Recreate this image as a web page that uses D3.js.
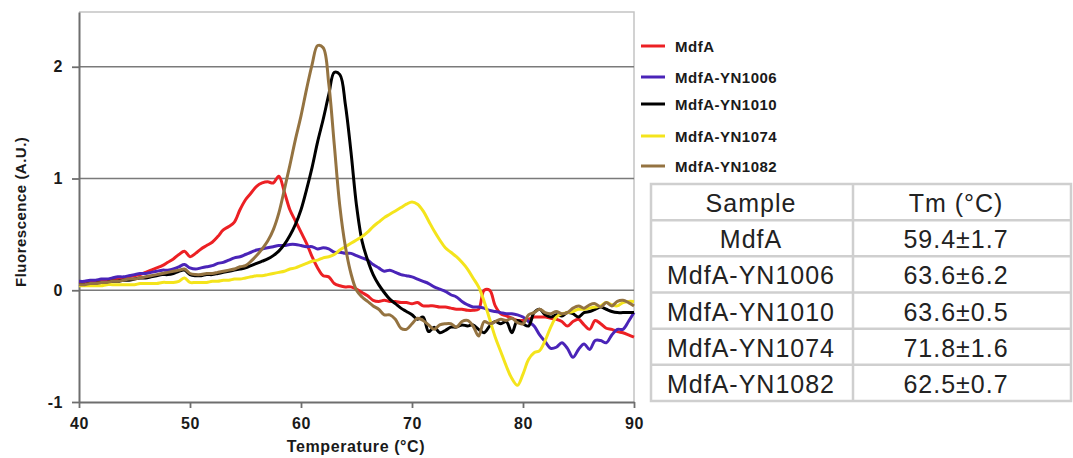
<!DOCTYPE html>
<html lang="en">
<head>
<meta charset="UTF-8">
<title>Thermal shift - MdfA variants</title>
<script src="https://cdn.jsdelivr.net/npm/d3@7"></script>
<style>
  body { margin: 0; background: #fff; }
  svg { display: block; font-family: "Liberation Sans", Arial, sans-serif; }
</style>
</head>
<body>
<div id="container"></div>
<script>
// temperature grid, 0.5 °C steps from 40 to 90
const temps = d3.range(40, 90.001, 0.5);

const mdfA = [
  0.07, 0.07, 0.08, 0.08, 0.09, 0.09, 0.10, 0.10, 0.11, 0.12,
  0.13, 0.14, 0.16, 0.18, 0.20, 0.22, 0.25, 0.28, 0.32, 0.35,
  0.30, 0.33, 0.37, 0.40, 0.43, 0.48, 0.54, 0.57, 0.61, 0.72,
  0.81, 0.87, 0.93, 0.96, 0.97, 0.96, 1.02, 0.88, 0.72, 0.62,
  0.52, 0.42, 0.30, 0.20, 0.13, 0.12, 0.06, 0.04, 0.03, 0.03,
  0.01, -0.02, -0.05, -0.09, -0.10, -0.09, -0.10, -0.10, -0.11, -0.11,
  -0.12, -0.11, -0.14, -0.14, -0.14, -0.15, -0.15, -0.16, -0.17, -0.17,
  -0.18, -0.18, -0.17, 0.00, 0.00, -0.14, -0.21, -0.23, -0.25, -0.27,
  -0.27, -0.26, -0.24, -0.24, -0.24, -0.25, -0.26, -0.28, -0.32, -0.28,
  -0.26, -0.31, -0.35, -0.27, -0.30, -0.34, -0.35, -0.37, -0.38, -0.40,
  -0.42
];

const yn1006 = [
  0.08, 0.08, 0.09, 0.09, 0.10, 0.10, 0.11, 0.12, 0.12, 0.13,
  0.14, 0.15, 0.15, 0.16, 0.17, 0.18, 0.18, 0.19, 0.21, 0.23,
  0.20, 0.19, 0.20, 0.21, 0.22, 0.24, 0.25, 0.27, 0.29, 0.30,
  0.32, 0.34, 0.36, 0.37, 0.38, 0.39, 0.40, 0.40, 0.41, 0.41,
  0.40, 0.39, 0.39, 0.37, 0.38, 0.37, 0.34, 0.34, 0.33, 0.33,
  0.31, 0.29, 0.27, 0.23, 0.20, 0.17, 0.18, 0.16, 0.14, 0.13,
  0.12, 0.10, 0.08, 0.06, 0.03, 0.01, -0.01, -0.04, -0.06, -0.10,
  -0.13, -0.15, -0.15, -0.16, -0.18, -0.19, -0.20, -0.21, -0.21, -0.22,
  -0.24, -0.28, -0.32, -0.40, -0.46, -0.52, -0.51, -0.47, -0.52, -0.60,
  -0.53, -0.48, -0.53, -0.45, -0.45, -0.47, -0.40, -0.35, -0.35, -0.28,
  -0.20
];

const yn1010 = [
  0.05, 0.05, 0.06, 0.06, 0.07, 0.07, 0.08, 0.08, 0.09, 0.09,
  0.10, 0.11, 0.11, 0.12, 0.13, 0.14, 0.14, 0.15, 0.17, 0.18,
  0.14, 0.13, 0.13, 0.14, 0.14, 0.15, 0.16, 0.17, 0.18, 0.19,
  0.20, 0.22, 0.24, 0.26, 0.28, 0.31, 0.35, 0.41, 0.49, 0.59,
  0.72, 0.90, 1.10, 1.33, 1.53, 1.75, 1.95, 1.93, 1.66, 1.24,
  0.76, 0.44, 0.27, 0.14, 0.05, -0.02, -0.08, -0.12, -0.16, -0.19,
  -0.22, -0.26, -0.24, -0.37, -0.33, -0.38, -0.36, -0.33, -0.33, -0.31,
  -0.32, -0.31, -0.35, -0.38, -0.32, -0.28, -0.30, -0.28, -0.38, -0.27,
  -0.30, -0.32, -0.20, -0.17, -0.22, -0.24, -0.22, -0.23, -0.20, -0.21,
  -0.24, -0.20, -0.19, -0.17, -0.15, -0.17, -0.19, -0.20, -0.20, -0.20,
  -0.20
];

const yn1074 = [
  0.04, 0.04, 0.04, 0.04, 0.04, 0.05, 0.05, 0.05, 0.05, 0.05,
  0.05, 0.06, 0.06, 0.06, 0.06, 0.07, 0.07, 0.07, 0.08, 0.11,
  0.07, 0.07, 0.07, 0.07, 0.08, 0.08, 0.09, 0.09, 0.10, 0.10,
  0.11, 0.12, 0.13, 0.13, 0.14, 0.15, 0.16, 0.17, 0.19, 0.20,
  0.22, 0.24, 0.26, 0.27, 0.29, 0.30, 0.32, 0.36, 0.39, 0.42,
  0.45, 0.48, 0.52, 0.57, 0.61, 0.65, 0.68, 0.71, 0.74, 0.77,
  0.79, 0.77, 0.71, 0.62, 0.53, 0.45, 0.38, 0.34, 0.30, 0.25,
  0.19, 0.11, 0.03, -0.10, -0.26, -0.42, -0.55, -0.68, -0.79, -0.85,
  -0.75, -0.62, -0.56, -0.54, -0.45, -0.33, -0.24, -0.21, -0.20, -0.19,
  -0.17, -0.17, -0.16, -0.15, -0.14, -0.11, -0.13, -0.14, -0.11, -0.10,
  -0.10
];

const yn1082 = [
  0.05, 0.05, 0.06, 0.06, 0.07, 0.07, 0.08, 0.08, 0.09, 0.10,
  0.10, 0.11, 0.12, 0.13, 0.14, 0.15, 0.16, 0.17, 0.18, 0.19,
  0.15, 0.14, 0.14, 0.15, 0.15, 0.16, 0.17, 0.18, 0.19, 0.21,
  0.22, 0.26, 0.31, 0.37, 0.44, 0.54, 0.69, 0.90, 1.12, 1.35,
  1.56, 1.80, 2.02, 2.19, 2.17, 1.85, 1.30, 0.75, 0.39, 0.15,
  0.00, -0.06, -0.10, -0.14, -0.17, -0.22, -0.22, -0.26, -0.34, -0.35,
  -0.30, -0.25, -0.27, -0.31, -0.35, -0.31, -0.30, -0.30, -0.33, -0.28,
  -0.27, -0.32, -0.41, -0.28, -0.30, -0.28, -0.26, -0.27, -0.25, -0.29,
  -0.30, -0.22, -0.20, -0.17, -0.20, -0.21, -0.19, -0.21, -0.20, -0.16,
  -0.14, -0.16, -0.13, -0.12, -0.15, -0.11, -0.14, -0.10, -0.09, -0.11,
  -0.14
];

const sampleNames = ["MdfA", "MdfA-YN1006", "MdfA-YN1010", "MdfA-YN1074", "MdfA-YN1082"];
const sampleColors = ["#ec2024", "#4a24b8", "#000000", "#f4e41c", "#947341"];
const tmValues = ["59.4±1.7", "63.6±6.2", "63.6±0.5", "71.8±1.6", "62.5±0.7"];
const xTicks = [40, 50, 60, 70, 80, 90];
const yTicks = [-1, 0, 1, 2];

const series = [mdfA, yn1006, yn1010, yn1074, yn1082].map((vals, i) => ({
  name: sampleNames[i],
  color: sampleColors[i],
  points: temps.map((t, j) => [t, vals[j]])
}));

const width = 1073, height = 458;
const margin = {left: 79, right: 439, top: 12, bottom: 56};

const x = d3.scaleLinear().domain([40, 90]).range([margin.left, width - margin.right]);
const y = d3.scaleLinear().domain([-1, 2.49]).range([height - margin.bottom, margin.top]);

const svg = d3.select("#container").append("svg")
  .attr("width", width)
  .attr("height", height);

// plot frame (light top/right edges)
svg.append("path")
  .attr("d", `M${x(40)},${y(2.49)}H${x(90)}V${y(-1)}`)
  .attr("fill", "none")
  .attr("stroke", "#c4c4c4")
  .attr("stroke-width", 1.5);

// horizontal gridlines
svg.append("g")
  .selectAll("line")
  .data(yTicks.filter(d => d > -1))
  .join("line")
  .attr("x1", x(40)).attr("x2", x(90))
  .attr("y1", d => y(d)).attr("y2", d => y(d))
  .attr("stroke", "#7a7a7a")
  .attr("stroke-width", 1.6);

// axes
const xAxis = svg.append("g")
  .attr("transform", `translate(0,${y(-1)})`)
  .call(d3.axisBottom(x).tickValues(xTicks).tickFormat(d => String(d))
    .tickSize(6).tickSizeOuter(0).tickPadding(10));
const yAxis = svg.append("g")
  .attr("transform", `translate(${x(40)},0)`)
  .call(d3.axisLeft(y).tickValues(yTicks).tickFormat(d => String(d))
    .tickSize(7).tickSizeOuter(0).tickPadding(9));

[xAxis, yAxis].forEach(g => {
  g.select(".domain").attr("stroke", "#6e6e6e").attr("stroke-width", 2);
  g.selectAll(".tick line").attr("stroke", "#6e6e6e").attr("stroke-width", 1.8);
  g.selectAll(".tick text")
    .attr("font-family", "Liberation Sans, Arial, sans-serif")
    .attr("font-size", 16)
    .attr("font-weight", "bold")
    .attr("letter-spacing", 0.5)
    .attr("fill", "#1a1a1a");
});

svg.append("text")
  .attr("x", 356).attr("y", 452)
  .attr("text-anchor", "middle")
  .attr("font-size", 16).attr("font-weight", "bold").attr("letter-spacing", 0.6)
  .attr("fill", "#1a1a1a")
  .text("Temperature (°C)");

svg.append("text")
  .attr("transform", "translate(26,287) rotate(-90)")
  .attr("text-anchor", "start")
  .attr("font-size", 15).attr("font-weight", "bold").attr("letter-spacing", 0.5)
  .attr("fill", "#1a1a1a")
  .text("Fluorescence (A.U.)");

// curves
const line = d3.line()
  .x(d => x(d[0]))
  .y(d => y(d[1]))
  .curve(d3.curveCatmullRom.alpha(0.5));

svg.append("g")
  .selectAll("path")
  .data(series)
  .join("path")
  .attr("fill", "none")
  .attr("stroke", d => d.color)
  .attr("stroke-width", 3)
  .attr("stroke-linejoin", "round")
  .attr("d", d => line(d.points));

// legend
const legendY = [46, 77, 104, 136, 166];
const legend = svg.append("g")
  .selectAll("g")
  .data(series)
  .join("g")
  .attr("transform", (d, i) => `translate(641,${legendY[i]})`);
legend.append("line")
  .attr("x1", 0).attr("x2", 24)
  .attr("stroke", d => d.color)
  .attr("stroke-width", 3);
legend.append("text")
  .attr("x", 34).attr("y", 5.5)
  .attr("font-size", 15).attr("font-weight", "bold").attr("letter-spacing", 0.5)
  .attr("fill", "#1a1a1a")
  .text(d => d.name);

// Tm table
const tbl = {x0: 651, x1: 853, x2: 1071, y0: 184, y1: 401};
const rowH = (tbl.y1 - tbl.y0) / (sampleNames.length + 1);
const tableG = svg.append("g");
const rows = [["Sample", "Tm (°C)"]].concat(sampleNames.map((n, i) => [n, tmValues[i]]));

tableG.append("rect")
  .attr("x", tbl.x0).attr("y", tbl.y0)
  .attr("width", tbl.x2 - tbl.x0).attr("height", tbl.y1 - tbl.y0)
  .attr("fill", "#fff")
  .attr("stroke", "#cfcfcf").attr("stroke-width", 2.5);
tableG.append("line")
  .attr("x1", tbl.x1).attr("x2", tbl.x1)
  .attr("y1", tbl.y0).attr("y2", tbl.y1)
  .attr("stroke", "#cfcfcf").attr("stroke-width", 2.5);
tableG.selectAll(".rowline")
  .data(d3.range(1, rows.length))
  .join("line")
  .attr("x1", tbl.x0).attr("x2", tbl.x2)
  .attr("y1", i => tbl.y0 + i * rowH).attr("y2", i => tbl.y0 + i * rowH)
  .attr("stroke", "#cfcfcf").attr("stroke-width", 2.5);

rows.forEach((r, i) => {
  const by = tbl.y0 + i * rowH + 28;
  tableG.append("text")
    .attr("x", 751).attr("y", by)
    .attr("text-anchor", "middle")
    .attr("font-size", 25).attr("letter-spacing", 1).attr("fill", "#222")
    .text(r[0]);
  tableG.append("text")
    .attr("x", 956).attr("y", by)
    .attr("text-anchor", "middle")
    .attr("font-size", 25).attr("letter-spacing", 1).attr("fill", "#222")
    .text(r[1]);
});
</script>
</body>
</html>
